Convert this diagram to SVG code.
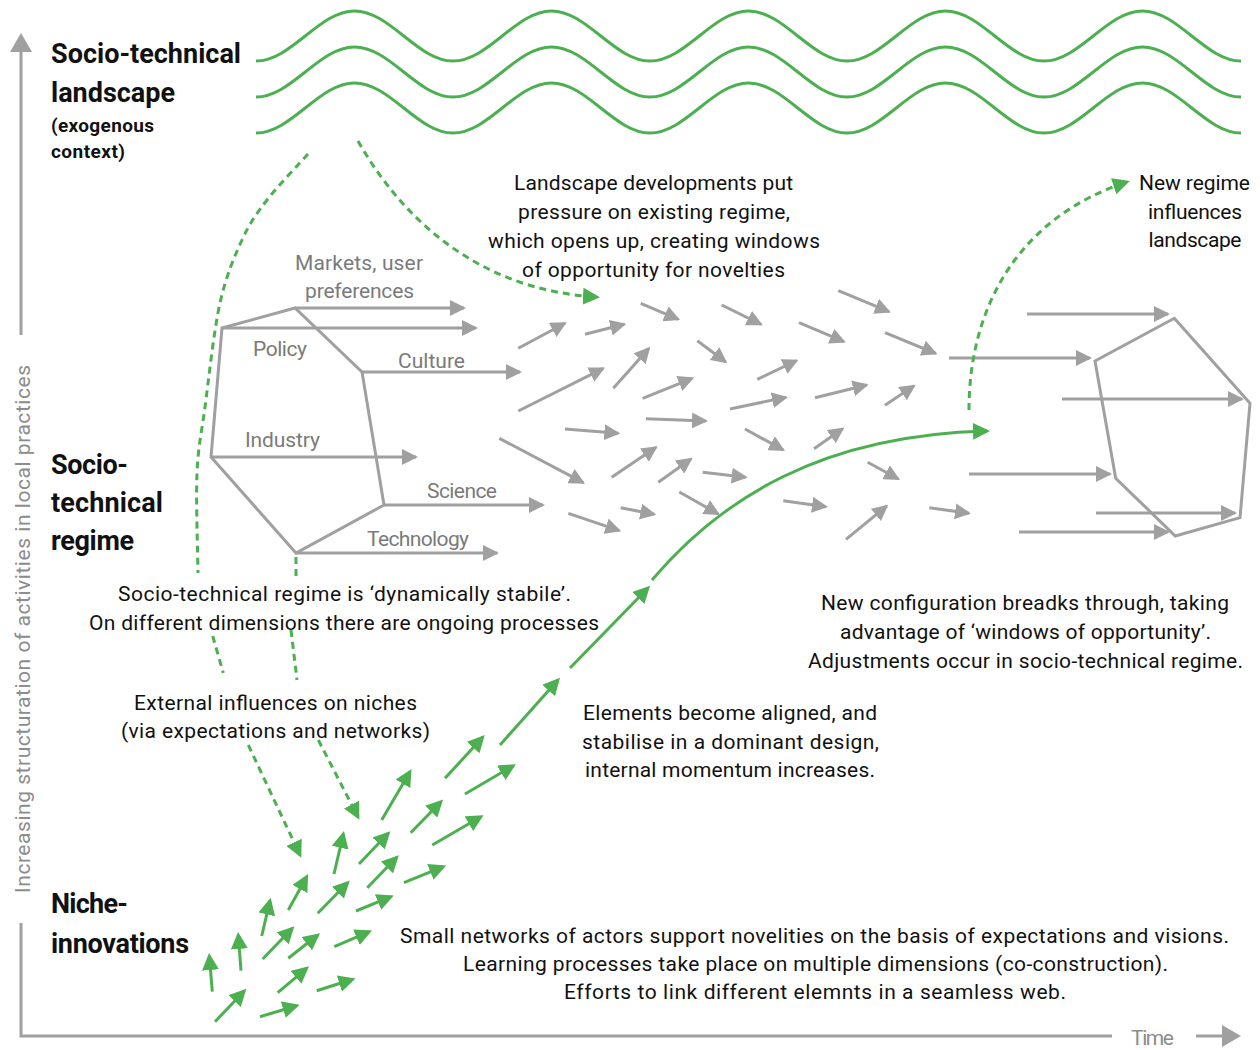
<svg xmlns="http://www.w3.org/2000/svg" width="1260" height="1050" viewBox="0 0 1260 1050">
  <style>
    .grey { stroke: #a0a0a0; stroke-width: 3; fill: none; }
    .g-arrow { stroke: #a0a0a0; stroke-width: 3; fill: none; marker-end: url(#headGrey); }
    .n-arrow { stroke: #4caf50; stroke-width: 3; fill: none; marker-end: url(#headGreen); }
    .dash { stroke: #4caf50; stroke-width: 3; fill: none; stroke-dasharray: 7 5; }
    .dash-arrow { stroke: #4caf50; stroke-width: 3; fill: none; stroke-dasharray: 7 5; marker-end: url(#headGreen); }
    .wave { stroke: #4caf50; stroke-width: 3; fill: none; }
    text { font-family: Roboto, "Liberation Sans", Arial, sans-serif; }
    .title { font-size: 27px; font-weight: bold; fill: #111; }
    .sub { font-size: 19px; font-weight: bold; fill: #111; }
    .body { font-size: 21px; fill: #111; text-anchor: middle; }
    .dim { font-size: 21px; fill: #7a7a7a; text-anchor: middle; }
    .axis { font-size: 21px; fill: #8c8c8c; }
  </style>
  <defs>
    <marker id="headGrey" markerUnits="userSpaceOnUse" markerWidth="16" markerHeight="16" refX="14" refY="8" orient="auto">
      <path d="M0,0 L16,8 L0,16 Z" fill="#a0a0a0"/>
    </marker>
    <marker id="headGreen" markerUnits="userSpaceOnUse" markerWidth="17" markerHeight="17" refX="14" refY="8.5" orient="auto">
      <path d="M0,0 L17,8.5 L0,17 Z" fill="#4caf50"/>
    </marker>
    <marker id="headAxis" markerUnits="userSpaceOnUse" markerWidth="19" markerHeight="22" refX="16" refY="11" orient="auto">
      <path d="M0,0 L19,11 L0,22 Z" fill="#a0a0a0"/>
    </marker>
    <!-- one landscape wave: five periods, trough to trough -->
    <path id="wave" class="wave" d="M256,61 C291.5,61 319,11 354.5,11 S417.5,61 453,61 S516,11 551.5,11 S614.5,61 650,61 S713,11 748.5,11 S811.5,61 847,61 S910,11 945.5,11 S1008.5,61 1044,61 S1107,11 1142.5,11 S1205.5,61 1241,61"/>
  </defs>

  <rect width="1260" height="1050" fill="#fff"/>

  <!-- axes -->
  <g id="axes">
    <line class="grey" x1="21" y1="335" x2="21" y2="36" marker-end="url(#headAxis)"/>
    <text class="axis" transform="translate(30,629) rotate(-90)" text-anchor="middle" textLength="528">Increasing structuration of activities in local practices</text>
    <polyline class="grey" points="21,923 21,1036 1112,1036"/>
    <text class="axis" x="1131" y="1045" textLength="43">Time</text>
    <line class="grey" x1="1196" y1="1036" x2="1238" y2="1036" marker-end="url(#headAxis)"/>
  </g>

  <!-- landscape level -->
  <g id="landscape">
    <use href="#wave"/>
    <use href="#wave" transform="translate(0,36)"/>
    <use href="#wave" transform="translate(0,72)"/>
    <text class="title" x="51" y="63" textLength="190">Socio-technical</text>
    <text class="title" x="51" y="102" textLength="124">landscape</text>
    <text class="sub" x="51" y="132" textLength="103">(exogenous</text>
    <text class="sub" x="51" y="158" textLength="74">context)</text>
  </g>

  <!-- existing regime with its dimensions -->
  <g id="regime">
    <polygon class="grey" points="222,328 295,308 362,372 384,505 296,553 211,457"/>
    <path class="g-arrow" d="M295,308 L464,308"/>
    <path class="g-arrow" d="M222,328 L476,328"/>
    <path class="g-arrow" d="M362,372 L520,372"/>
    <path class="g-arrow" d="M211,457 L416,457"/>
    <path class="g-arrow" d="M384,505 L543,505"/>
    <path class="g-arrow" d="M296,553 L497,553"/>
    <text class="dim" x="359" y="270" textLength="128">Markets, user</text>
    <text class="dim" x="359.5" y="298" textLength="109">preferences</text>
    <text class="dim" x="280" y="356" textLength="54">Policy</text>
    <text class="dim" x="431.5" y="368" textLength="67">Culture</text>
    <text class="dim" x="282.5" y="447" textLength="75">Industry</text>
    <text class="dim" x="462" y="498" textLength="70">Science</text>
    <text class="dim" x="418" y="546" textLength="102">Technology</text>
    <text class="title" x="51" y="474" textLength="77">Socio-</text>
    <text class="title" x="51" y="512" textLength="112">technical</text>
    <text class="title" x="51" y="550" textLength="83">regime</text>
  </g>

  <!-- dimensions pulled apart by pressure -->
  <g id="unsettled-regime">
    <path class="g-arrow" d="M518.3,348.3 L565,323.3"/>
    <path class="g-arrow" d="M585,334.3 L624.3,324.3"/>
    <path class="g-arrow" d="M640.7,303.3 L678.3,319.3"/>
    <path class="g-arrow" d="M721.7,305 L761,324.3"/>
    <path class="g-arrow" d="M838.3,290.7 L889,311.7"/>
    <path class="g-arrow" d="M799,322.7 L844,341.7"/>
    <path class="g-arrow" d="M885,332.7 L935.7,353.5"/>
    <path class="g-arrow" d="M697.3,340.7 L725.7,362"/>
    <path class="g-arrow" d="M613.3,388.3 L649,348.3"/>
    <path class="g-arrow" d="M518.3,411 L603.3,368.3"/>
    <path class="g-arrow" d="M642.7,398.3 L692.3,378.3"/>
    <path class="g-arrow" d="M757.3,379.3 L796.7,360.5"/>
    <path class="g-arrow" d="M730,409 L786,397.3"/>
    <path class="g-arrow" d="M815,397.7 L866.7,385"/>
    <path class="g-arrow" d="M885,405.3 L914,385.8"/>
    <path class="g-arrow" d="M565,429 L618.3,433.3"/>
    <path class="g-arrow" d="M646,418.7 L706,421"/>
    <path class="g-arrow" d="M745,429 L783.3,450"/>
    <path class="g-arrow" d="M814,448.7 L842.7,428.7"/>
    <path class="g-arrow" d="M499.3,438.3 L583.3,482.7"/>
    <path class="g-arrow" d="M611.7,477.3 L656,447.3"/>
    <path class="g-arrow" d="M658.3,482.3 L691,459"/>
    <path class="g-arrow" d="M702.7,472.3 L745.7,477.3"/>
    <path class="g-arrow" d="M867.7,462.3 L898.3,479"/>
    <path class="g-arrow" d="M679.3,492 L718.3,514"/>
    <path class="g-arrow" d="M620.7,507.7 L654.3,514.3"/>
    <path class="g-arrow" d="M568.3,513.3 L619.3,530.7"/>
    <path class="g-arrow" d="M783.3,500.7 L826,506.7"/>
    <path class="g-arrow" d="M846,539.3 L886.7,506"/>
    <path class="g-arrow" d="M929.3,507.7 L969,513.3"/>
  </g>

  <!-- new regime -->
  <g id="new-regime">
    <polygon class="grey" points="1174.3,318.3 1250,403.3 1240,517.7 1175.3,536 1115.7,478.3 1095,361"/>
    <path class="g-arrow" d="M1027,314 L1168,314"/>
    <path class="g-arrow" d="M949,358 L1090,358"/>
    <path class="g-arrow" d="M1062,399 L1242,399"/>
    <path class="g-arrow" d="M969,474 L1110,474"/>
    <path class="g-arrow" d="M1096,513 L1235,513"/>
    <path class="g-arrow" d="M1019,532 L1168,532"/>
  </g>

  <!-- niche-innovations -->
  <g id="niche-innovations">
    <path class="n-arrow" d="M381.7,820 L410,771.7"/>
    <path class="n-arrow" d="M445,778.3 L482.7,737.3"/>
    <path class="n-arrow" d="M465,794 L513.3,765.7"/>
    <path class="n-arrow" d="M410.7,832.7 L441,801.7"/>
    <path class="n-arrow" d="M432.3,845 L481,816.7"/>
    <path class="n-arrow" d="M334,874 L343.3,834"/>
    <path class="n-arrow" d="M359,864 L388.3,833.3"/>
    <path class="n-arrow" d="M367.3,887.7 L396.7,857.3"/>
    <path class="n-arrow" d="M404,882.7 L443.3,866.7"/>
    <path class="n-arrow" d="M288.3,910 L306.7,876.7"/>
    <path class="n-arrow" d="M317.7,913.3 L347.7,882.7"/>
    <path class="n-arrow" d="M356,911 L391,896.7"/>
    <path class="n-arrow" d="M261.7,936 L270,900.7"/>
    <path class="n-arrow" d="M262.7,959 L292.3,928.3"/>
    <path class="n-arrow" d="M288.3,958.3 L317.7,935"/>
    <path class="n-arrow" d="M334.3,946.7 L369.3,931.7"/>
    <path class="n-arrow" d="M241,970.7 L238.3,935"/>
    <path class="n-arrow" d="M212.3,991.7 L209.3,956"/>
    <path class="n-arrow" d="M277.7,992.7 L306.7,968.3"/>
    <path class="n-arrow" d="M316.7,990.7 L352.7,979.3"/>
    <path class="n-arrow" d="M215,1021.7 L244.3,991"/>
    <path class="n-arrow" d="M260,1016.7 L296.7,1005.7"/>
    <text class="title" x="51" y="913" textLength="77">Niche-</text>
    <text class="title" x="51" y="953" textLength="138">innovations</text>
  </g>

  <!-- influences between levels and the breakthrough trajectory -->
  <g id="connectors">
    <path class="dash" d="M308,154 C301.2,161.7 278,185.7 267,200 C256,214.3 249.8,222.8 242,240 C234.2,257.2 226.2,275.2 220,303 C213.8,330.8 208.8,378.7 205,407 C201.2,435.3 198.2,445.8 197,473 C195.8,500.2 197.8,553.8 198,573"/>
    <path class="dash" d="M212.7,636 L223.3,673"/>
    <path class="dash-arrow" d="M248.3,745 L300,855"/>
    <path class="dash" d="M296,557 L296,580"/>
    <path class="dash" d="M291,630 L297,680"/>
    <path class="dash-arrow" d="M318.3,740 L358,817"/>
    <path class="dash-arrow" d="M358,141 C400,215 475,290 597,297"/>
    <path class="dash-arrow" d="M969,410 C969,300 1025,215 1127,182"/>
    <path class="n-arrow" d="M500,745 L558,680"/>
    <path class="n-arrow" d="M570,668 L648,588"/>
    <path class="n-arrow" d="M652,580 C720,500 820,435 987,431"/>
  </g>

  <!-- explanatory notes -->
  <g id="notes">
    <text class="body" x="653.5" y="190" textLength="279">Landscape developments put</text>
    <text class="body" x="654" y="219" textLength="272">pressure on existing regime,</text>
    <text class="body" x="654" y="248" textLength="332">which opens up, creating windows</text>
    <text class="body" x="653.5" y="277" textLength="263">of opportunity for novelties</text>

    <text class="body" x="1194.5" y="190" textLength="111">New regime</text>
    <text class="body" x="1195" y="219" textLength="94">influences</text>
    <text class="body" x="1195" y="247" textLength="93">landscape</text>

    <text class="body" x="344.5" y="601" textLength="453">Socio-technical regime is ‘dynamically stabile’.</text>
    <text class="body" x="344" y="630" textLength="510">On different dimensions there are ongoing processes</text>

    <text class="body" x="275.5" y="710" textLength="283">External influences on niches</text>
    <text class="body" x="275.5" y="738" textLength="309">(via expectations and networks)</text>

    <text class="body" x="730" y="720" textLength="294">Elements become aligned, and</text>
    <text class="body" x="730.5" y="749" textLength="297">stabilise in a dominant design,</text>
    <text class="body" x="730" y="777" textLength="290">internal momentum increases.</text>

    <text class="body" x="1025" y="610" textLength="408">New configuration breadks through, taking</text>
    <text class="body" x="1025.5" y="639" textLength="371">advantage of ‘windows of opportunity’.</text>
    <text class="body" x="1025.5" y="668" textLength="435">Adjustments occur in socio-technical regime.</text>

    <text class="body" x="814.5" y="943" textLength="829">Small networks of actors support novelities on the basis of expectations and visions.</text>
    <text class="body" x="815.5" y="971" textLength="705">Learning processes take place on multiple dimensions (co-construction).</text>
    <text class="body" x="815" y="999" textLength="502">Efforts to link different elemnts in a seamless web.</text>
  </g>
</svg>
